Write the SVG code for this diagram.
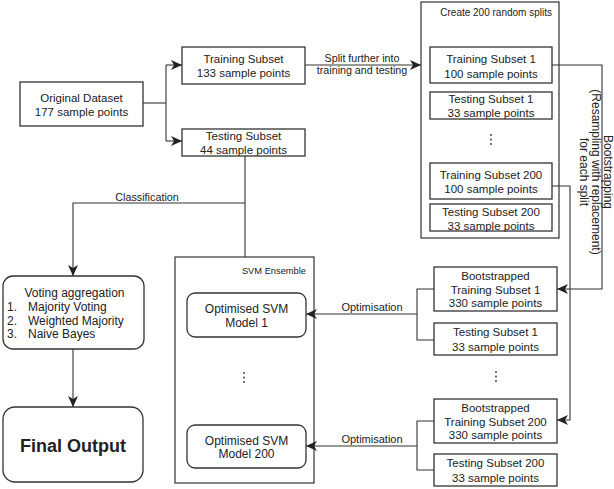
<svg xmlns="http://www.w3.org/2000/svg" width="614" height="489" viewBox="0 0 614 489">
<style>
.box{fill:#fff;stroke:#333;stroke-width:1.3}
.frame{fill:none;stroke:#333;stroke-width:1.2}
.t{font-family:"Liberation Sans",Arial,sans-serif;font-size:11.5px;fill:#222;text-anchor:middle}
.s{font-family:"Liberation Sans",Arial,sans-serif;fill:#222}
.c{fill:none;stroke:#333;stroke-width:1.1}
.dot{fill:#333}
</style>
<defs>
<marker id="arr" markerUnits="userSpaceOnUse" markerWidth="12" markerHeight="10" refX="11" refY="5" orient="auto">
<path d="M0,0 L11,5 L0,10 L3,5 Z" fill="#222"/>
</marker>
</defs>
<rect width="614" height="489" fill="#fff"/>

<g id="splits-frame">
<rect class="frame" x="421" y="2" width="138" height="236"/>
<text class="s" x="552" y="16" font-size="10" text-anchor="end">Create 200 random splits</text>
</g>
<g id="svm-ensemble">
<rect class="frame" x="175" y="257" width="139" height="226"/>
<text class="s" x="306" y="274" font-size="9.3" text-anchor="end">SVM Ensemble</text>
</g>

<g id="connectors">
<path class="c" d="M143,103 H166"/>
<path class="c" d="M166,65 V141"/>
<path class="c" d="M166,65 H182" marker-end="url(#arr)"/>
<path class="c" d="M166,141 H182" marker-end="url(#arr)"/>
<path class="c" d="M305,65 H421" marker-end="url(#arr)"/>
<text class="s" x="362" y="62" font-size="10.7" text-anchor="middle">Split further into</text>
<text class="s" x="362" y="74" font-size="10.7" text-anchor="middle">training and testing</text>
<path class="c" d="M245,156 V257"/>
<path class="c" d="M245,203 H73 V276" marker-end="url(#arr)"/>
<text class="s" x="147" y="201" font-size="10.8" text-anchor="middle">Classification</text>
<path class="c" d="M73,349 V407" marker-end="url(#arr)"/>
<path class="c" d="M552,65 H602 V289 H557" marker-end="url(#arr)"/>
<path class="c" d="M552,186 H570 V420 H557" marker-end="url(#arr)"/>
<g class="s" font-size="12" text-anchor="middle">
<text transform="translate(604,172) rotate(90)">Bootstrapping</text>
<text transform="translate(592,172) rotate(90)">(Resampling with replacement)</text>
<text transform="translate(580,172) rotate(90)">for each split</text>
</g>
<path class="c" d="M434,289 H417 V340 H434"/>
<path class="c" d="M417,314 H306" marker-end="url(#arr)"/>
<text class="s" x="372" y="311" font-size="11" text-anchor="middle">Optimisation</text>
<path class="c" d="M434,421 H417 V470 H434"/>
<path class="c" d="M417,446 H306" marker-end="url(#arr)"/>
<text class="s" x="372" y="443" font-size="11" text-anchor="middle">Optimisation</text>
</g>

<g id="original-dataset">
<rect class="box" x="20" y="82" width="123" height="44"/>
<text class="t" x="81.5" y="102">Original Dataset</text>
<text class="t" x="81.5" y="116">177 sample points</text>
</g>
<g id="training-subset">
<rect class="box" x="182" y="47" width="123" height="37"/>
<text class="t" x="243.5" y="63">Training Subset</text>
<text class="t" x="243.5" y="77">133 sample points</text>
</g>
<g id="testing-subset">
<rect class="box" x="182" y="129" width="123" height="27"/>
<text class="t" x="243.5" y="140">Testing Subset</text>
<text class="t" x="243.5" y="153.5">44 sample points</text>
</g>

<g id="training-subset-1">
<rect class="box" x="430" y="47" width="122" height="36"/>
<text class="t" x="491" y="63">Training Subset 1</text>
<text class="t" x="491" y="78">100 sample points</text>
</g>
<g id="testing-subset-1">
<rect class="box" x="430" y="92" width="122" height="27"/>
<text class="t" x="491" y="103">Testing Subset 1</text>
<text class="t" x="491" y="117">33 sample points</text>
</g>
<g id="dots-splits">
<circle class="dot" cx="491" cy="135" r="0.9"/>
<circle class="dot" cx="491" cy="139.5" r="0.9"/>
<circle class="dot" cx="491" cy="144" r="0.9"/>
</g>
<g id="training-subset-200">
<rect class="box" x="430" y="163" width="122" height="36"/>
<text class="t" x="491" y="179">Training Subset 200</text>
<text class="t" x="491" y="193">100 sample points</text>
</g>
<g id="testing-subset-200">
<rect class="box" x="430" y="204" width="122" height="27"/>
<text class="t" x="491" y="216">Testing Subset 200</text>
<text class="t" x="491" y="229.5">33 sample points</text>
</g>

<g id="bootstrapped-1">
<rect class="box" x="434" y="267" width="123" height="44"/>
<text class="t" x="495.5" y="280">Bootstrapped</text>
<text class="t" x="495.5" y="293.5">Training Subset 1</text>
<text class="t" x="495.5" y="307">330 sample points</text>
</g>
<g id="testing-subset-1b">
<rect class="box" x="434" y="323" width="123" height="32"/>
<text class="t" x="495.5" y="336">Testing Subset 1</text>
<text class="t" x="495.5" y="351">33 sample points</text>
</g>
<g id="dots-boot">
<circle class="dot" cx="496" cy="372" r="0.9"/>
<circle class="dot" cx="496" cy="376.5" r="0.9"/>
<circle class="dot" cx="496" cy="381" r="0.9"/>
</g>
<g id="bootstrapped-200">
<rect class="box" x="434" y="399" width="123" height="44"/>
<text class="t" x="495.5" y="411.5">Bootstrapped</text>
<text class="t" x="495.5" y="425.5">Training Subset 200</text>
<text class="t" x="495.5" y="439">330 sample points</text>
</g>
<g id="testing-subset-200b">
<rect class="box" x="434" y="454" width="123" height="32"/>
<text class="t" x="495.5" y="467">Testing Subset 200</text>
<text class="t" x="495.5" y="482">33 sample points</text>
</g>

<g id="svm-model-1">
<rect class="box" x="187" y="293" width="119" height="44" rx="8"/>
<text class="t" x="246.5" y="313" style="font-size:12px">Optimised SVM</text>
<text class="t" x="246.5" y="326.5" style="font-size:12px">Model 1</text>
</g>
<g id="dots-svm">
<circle class="dot" cx="244" cy="373" r="0.9"/>
<circle class="dot" cx="244" cy="377.5" r="0.9"/>
<circle class="dot" cx="244" cy="382" r="0.9"/>
</g>
<g id="svm-model-200">
<rect class="box" x="187" y="425" width="119" height="43" rx="8"/>
<text class="t" x="246.5" y="445" style="font-size:12px">Optimised SVM</text>
<text class="t" x="246.5" y="458" style="font-size:12px">Model 200</text>
</g>

<g id="voting-aggregation">
<rect class="box" x="3" y="276" width="141" height="73" rx="10"/>
<text class="t" x="74.5" y="297" style="font-size:12px">Voting aggregation</text>
<g class="s" font-size="12">
<text x="7" y="311">1.</text><text x="28" y="311">Majority Voting</text>
<text x="7" y="324.5">2.</text><text x="28" y="324.5">Weighted Majority</text>
<text x="7" y="338">3.</text><text x="28" y="338">Naive Bayes</text>
</g>
</g>
<g id="final-output">
<rect class="box" x="3" y="407" width="140" height="75" rx="12"/>
<text class="t" x="73" y="451.5" style="font-size:18px;font-weight:bold">Final Output</text>
</g>
</svg>
